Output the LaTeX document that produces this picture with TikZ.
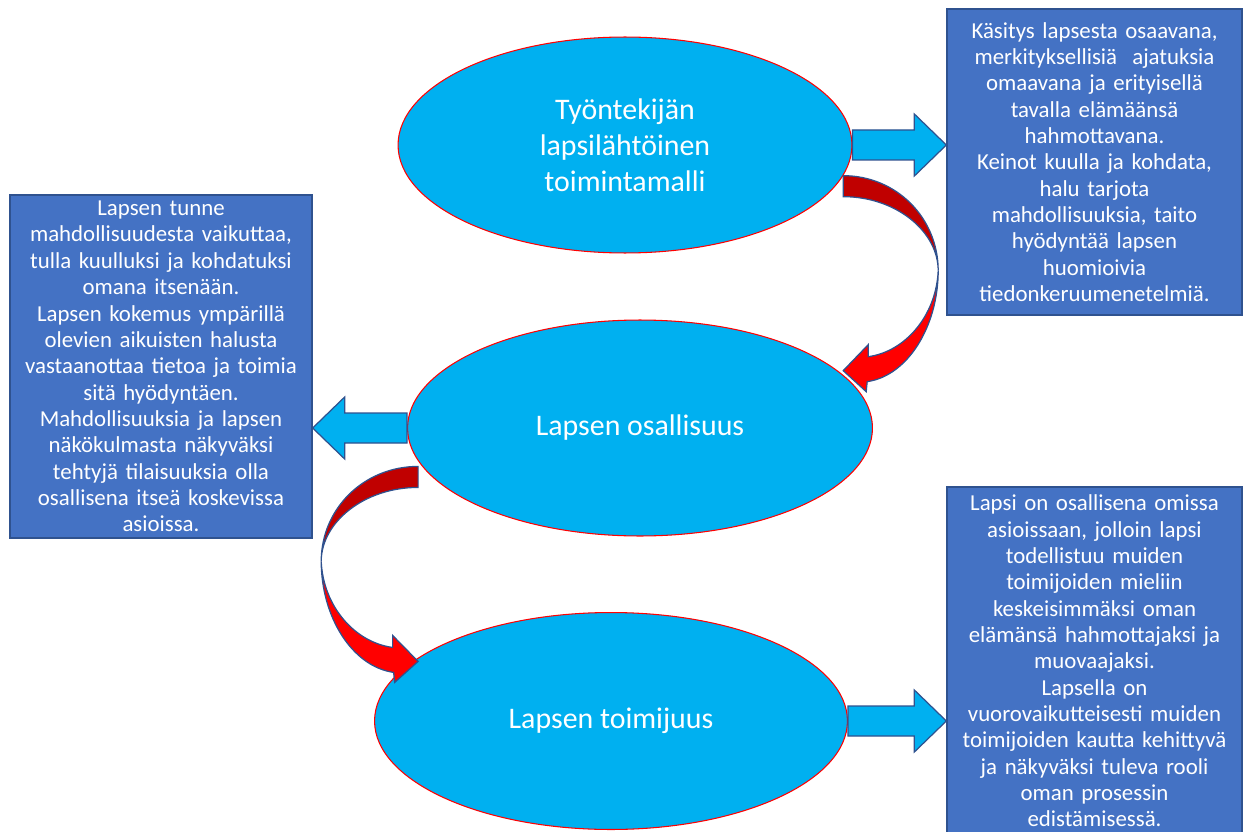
\documentclass[tikz,border=0pt]{standalone}
\usepackage{fontspec}
\setmainfont{Carlito}
\usetikzlibrary{shapes.geometric,calc}

\definecolor{boxblue}{HTML}{4472C4}
\definecolor{boxline}{HTML}{2F528F}
\definecolor{skyblue}{HTML}{00B0F0}
\definecolor{darkred}{HTML}{C00000}
\definecolor{brightred}{HTML}{FF0000}

\tikzset{
  infobox/.style={draw=boxline, line width=0.8pt, fill=boxblue, text=white,
    align=center, inner sep=0pt, font=\fontsize{13}{15}\selectfont},
  bubble/.style={ellipse, draw=brightred, line width=0.6pt, fill=skyblue, text=white,
    align=center, inner sep=0pt, font=\fontsize{17}{20.5}\selectfont},
  fatarr/.style={draw=boxline, line width=0.7pt, fill=skyblue},
  bendback/.style={draw=boxline, line width=0.7pt, fill=darkred},
  bendfront/.style={draw=boxline, line width=0.7pt, fill=brightred},
}

% straight block arrow from #1 to #2
\newcommand\fatarrow[2]{%
  \coordinate (hb) at ($(#2)!0.64cm!(#1)$);
  \draw[fatarr] ($(#1)+(0,-15)$) -- ($(hb)+(0,-15)$) -- ($(hb)+(0,-31)$) -- (#2)
    -- ($(hb)+(0,31)$) -- ($(hb)+(0,15)$) -- ($(#1)+(0,15)$) -- cycle;}

% curved block arrow, tail at #1, #2 = 1 (bends right) or -1 (bends left)
\newcommand\bendarrow[3]{%
  \begin{scope}[shift={(#1)}, xscale=#2, yscale=#3]
    \draw[bendback] (0,0) .. controls (53,0) and (95,42) .. (95,95)
      .. controls (95,56) and (53,21) .. (0,21) -- cycle;
    \draw[bendfront] (95,95) .. controls (95,150) and (65,200) .. (24,206)
      -- (23,216) -- (0,195) -- (25,169) -- (25,181)
      .. controls (62,176) and (93,140) .. (95,95) -- cycle;
  \end{scope}}

\begin{document}
\begin{tikzpicture}[x=0.02cm, y=-0.02cm]
    \useasboundingbox (0,0) rectangle (1243,831);

    % Draw the three ellipses
    \node[bubble, minimum width=9.08cm, minimum height=4.32cm] (e1) at (625,145)
        {Työntekijän\\lapsilähtöinen\\toimintamalli};
    \node[bubble, minimum width=9.3cm, minimum height=4.32cm] (e2) at (640,428)
        {Lapsen osallisuus};
    \node[bubble, minimum width=9.46cm, minimum height=4.34cm] (e3) at (611,721)
        {Lapsen toimijuus};

    % Draw the text boxes
    \node[infobox, minimum width=5.9cm, minimum height=6.12cm, text width=5.8cm] (b1) at (1094.5,162)
        {Käsitys lapsesta osaavana,\\
         merkityksellisiä~ ajatuksia\\
         omaavana ja erityisellä\\
         tavalla elämäänsä\\
         hahmottavana.\\
         Keinot kuulla ja kohdata,\\
         halu tarjota\\
         mahdollisuuksia, taito\\
         hyödyntää lapsen\\
         huomioivia\\
         tiedonkeruumenetelmiä.};
    \node[infobox, minimum width=6.04cm, minimum height=6.86cm, text width=5.95cm] (b2) at (161,366.5)
        {Lapsen tunne\\
         mahdollisuudesta vaikuttaa,\\
         tulla kuulluksi ja kohdatuksi\\
         omana itsenään.\\
         Lapsen kokemus ympärillä\\
         olevien aikuisten halusta\\
         vastaanottaa tietoa ja toimia\\
         sitä hyödyntäen.\\
         Mahdollisuuksia ja lapsen\\
         näkökulmasta näkyväksi\\
         tehtyjä tilaisuuksia olla\\
         osallisena itseä koskevissa\\
         asioissa.};
    \node[infobox, minimum width=5.9cm, minimum height=6.96cm, text width=5.8cm] (b3) at (1094.5,661)
        {Lapsi on osallisena omissa\\
         asioissaan, jolloin lapsi\\
         todellistuu muiden\\
         toimijoiden mieliin\\
         keskeisimmäksi oman\\
         elämänsä hahmottajaksi ja\\
         muovaajaksi.\\
         Lapsella on\\
         vuorovaikutteisesti muiden\\
         toimijoiden kautta kehittyvä\\
         ja näkyväksi tuleva rooli\\
         oman prosessin\\
         edistämisessä.};

    % Draw the block arrows to the boxes
    \coordinate (a1) at (b1.west |- e1.east);
    \coordinate (a2) at (b2.east |- e2.west);
    \coordinate (a3) at (b3.west |- e3.east);
    \fatarrow{e1.east}{a1}
    \fatarrow{e2.west}{a2}
    \fatarrow{e3.east}{a3}

    % Draw the curved arrows between the ellipses
    \bendarrow{e1.-8.4}{1}{1}
    \bendarrow{$(e2.190)+(-4,0)$}{-1.02}{1.0}
\end{tikzpicture}
\end{document}
